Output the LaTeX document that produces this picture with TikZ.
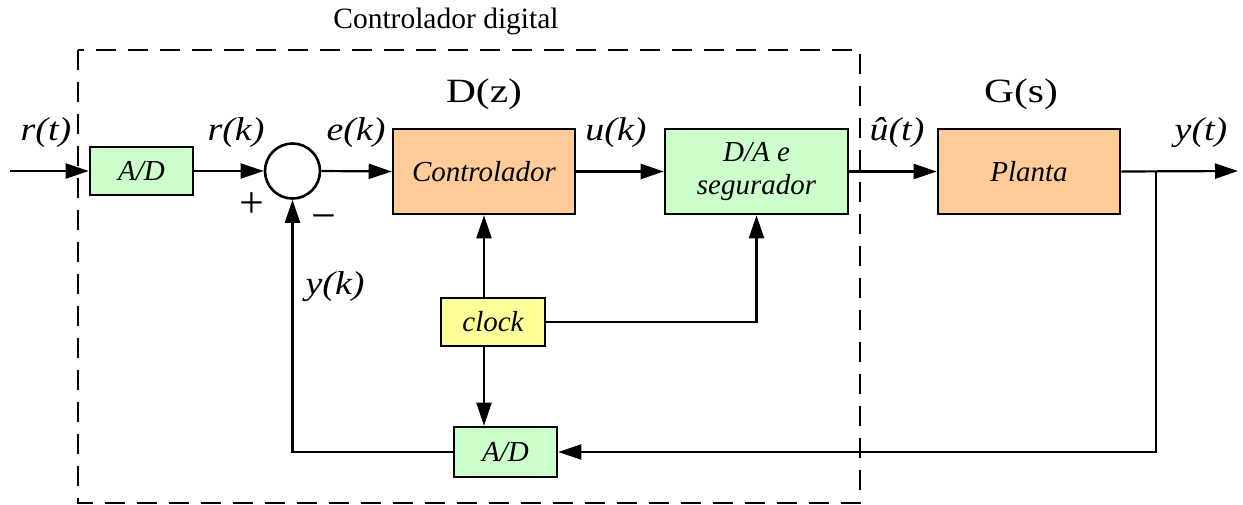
\documentclass[tikz,border=0pt]{standalone}
\usepackage{fontspec}
\setmainfont{Liberation Serif}
\newfontfamily\widerm{Liberation Serif}[FakeStretch=1.15]
\newfontfamily\widerrm{Liberation Serif}[FakeStretch=1.22]
\usetikzlibrary{arrows.meta}
\definecolor{orangefill}{HTML}{FFCC99}
\definecolor{greenfill}{HTML}{CCFFCC}
\definecolor{yellowfill}{HTML}{FFFF99}
\newcommand{\boxfont}{\rmfamily\fontsize{29}{31}\selectfont\itshape}
\newcommand{\sigfont}{\widerm\fontsize{33}{35}\selectfont\itshape}
\newcommand{\tffont}{\widerrm\fontsize{34}{36}\selectfont}
\tikzset{
  x=1pt, y=-1pt,
  blk/.style={draw=black, line width=2.6pt, inner sep=0pt, font=\boxfont, align=center},
  greenblk/.style={blk, fill=greenfill},
  orangeblk/.style={blk, fill=orangefill},
  yellowblk/.style={blk, fill=yellowfill},
  sig/.style={line width=2.2pt, -{Triangle[length=23pt,width=15pt]}},
  siglabel/.style={font=\sigfont, inner sep=0pt},
  tflabel/.style={font=\tffont, inner sep=0pt},
  signlabel/.style={font=\rmfamily\fontsize{44}{46}\selectfont, inner sep=0pt},
  boundary/.style={line width=2.6pt, dash pattern=on 20pt off 12pt}
}
\begin{document}
\begin{tikzpicture}
\useasboundingbox (0,0) rectangle (1243,504);

% digital controller boundary
\draw[boundary] (78,50) rectangle (860,503);
\node[font=\rmfamily\fontsize{29.5}{31}\selectfont, inner sep=0pt] (title) at (446,21) {Controlador digital};

% blocks
\node[greenblk, minimum width=103pt, minimum height=48pt] (ad1) at (141.5,171) {A/D};
\node[draw, circle, line width=2.6pt, minimum size=55pt, inner sep=0pt] (sum) at (292.5,171) {};
\node[orangeblk, minimum width=182pt, minimum height=85pt] (ctrl) at (484,171.5) {Controlador};
\node[greenblk, minimum width=183pt, minimum height=85pt] (da) at (756.5,171.5) {D/A e\\[2pt]segurador};
\node[orangeblk, minimum width=182pt, minimum height=85pt] (plant) at (1029,171.5) {Planta};
\node[yellowblk, minimum width=104pt, minimum height=48pt] (clock) at (493,322) {clock};
\node[greenblk, minimum width=103pt, minimum height=50pt] (ad2) at (505.5,452) {A/D};

% free ends
\coordinate (in) at (10,171);
\coordinate (out) at (1238,171);
\coordinate (br) at (1156,171);

% forward path
\draw[sig] (in) -- (ad1.west);
\draw[sig] (ad1.east) -- (sum.west);
\draw[sig] (sum.east) -- (ctrl.west);
\draw[sig] (ctrl.east) -- (da.west);
\draw[sig] (da.east) -- (plant.west);
\draw[sig] (plant.east) -- (out);

% feedback path
\draw[sig] (br) |- (ad2.east);
\draw[sig] (ad2.west) -| (sum.south);

% clock distribution
\draw[sig] (clock.north -| ctrl.south) -- (ctrl.south);
\draw[sig] (clock.south -| ctrl.south) -- (ad2.north -| ctrl.south);
\draw[sig] (clock.east) -| (da.south);

% signal labels
\node[siglabel] (lrt) at (46,133) {r(t)};
\node[siglabel] (lrk) at (236,133) {r(k)};
\node[siglabel] (lek) at (356,133) {e(k)};
\node[siglabel] (luk) at (616,133) {u(k)};
\node[siglabel] (lut) at (897,133) {û(t)};
\node[siglabel] (lyt) at (1201,133) {y(t)};
\node[siglabel] (lyk) at (335,287) {y(k)};
\node[tflabel] (ldz) at (484,94) {D(z)};
\node[tflabel] (lgs) at (1021,94) {G(s)};
\node[signlabel] (plus) at (252,205) {+};
\node[signlabel] (minus) at (323.5,223) {\textminus};
\end{tikzpicture}
\end{document}
